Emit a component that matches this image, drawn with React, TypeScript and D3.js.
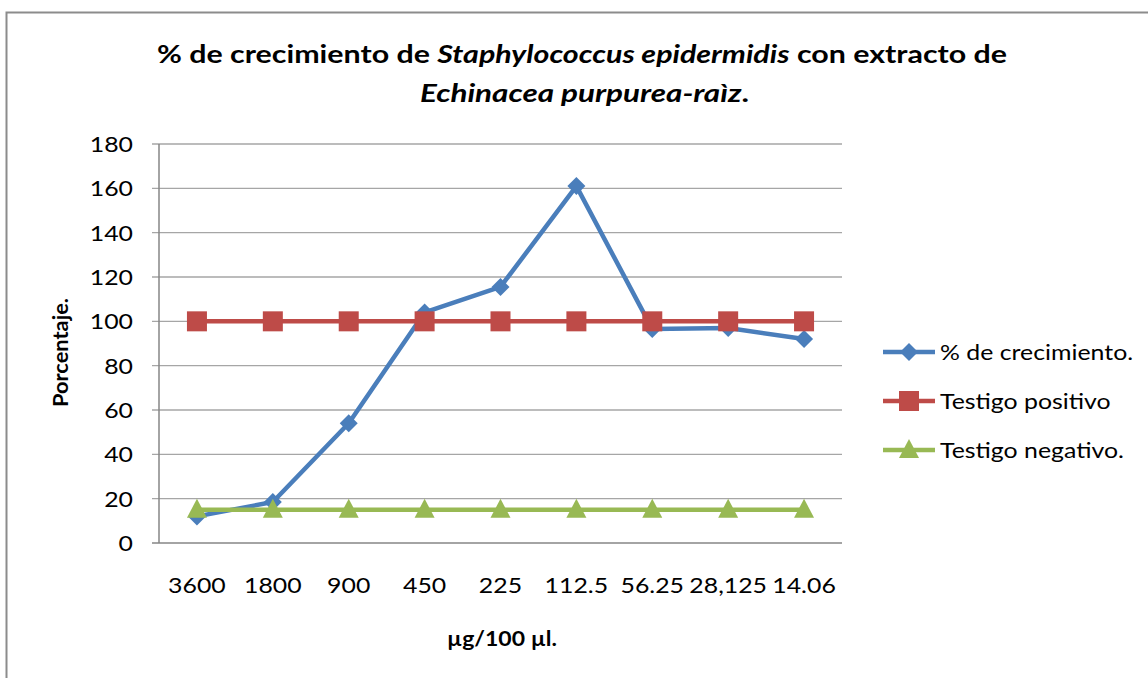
import React from "react";
import * as d3 from "d3";

const categories = ["3600", "1800", "900", "450", "225", "112.5", "56.25", "28,125", "14.06"];
const crecimiento = [12, 18.5, 54, 104, 115.5, 161, 96.5, 97, 92];
const positivo = [100, 100, 100, 100, 100, 100, 100, 100, 100];
const negativo = [15, 15, 15, 15, 15, 15, 15, 15, 15];
const yTicks = [0, 20, 40, 60, 80, 100, 120, 140, 160, 180];

const seriesNames = ["% de crecimiento.", "Testigo positivo", "Testigo negativo."];
const seriesColors = ["#4A7EBB", "#BE4B48", "#98B954"];

const W = 1148;
const H = 678;
const FONT = "Lato, 'Open Sans', sans-serif";
const SX = 1.13;

function SText(props: { x: number; y: number; anchor?: string; size: number; bold?: boolean; children: React.ReactNode }) {
  return (
    <text
      transform={`translate(${props.x},${props.y}) scale(${SX},1)`}
      textAnchor={props.anchor || "start"}
      fontSize={props.size}
      fontWeight={props.bold ? "bold" : "normal"}
      fill="#000"
    >
      {props.children}
    </text>
  );
}

export default function App() {
  const left = 159, right = 842, top = 144, bottom = 543;
  const x = d3.scaleBand<string>().domain(categories).range([left, right]);
  const y = d3.scaleLinear().domain([0, 180]).range([bottom, top]);
  const cx = (c: string) => (x(c) as number) + x.bandwidth() / 2;
  const line = d3.line<[string, number]>().x((d) => cx(d[0])).y((d) => y(d[1]));
  const data = [crecimiento, positivo, negativo];

  const marker = (kind: number, px: number, py: number, key: string) => {
    const col = seriesColors[kind];
    if (kind === 0) {
      const s = 9;
      return <path key={key} d={`M${px},${py - s}L${px + s},${py}L${px},${py + s}L${px - s},${py}Z`} fill={col} />;
    }
    if (kind === 1) {
      return <rect key={key} x={px - 10} y={py - 10} width={20} height={20} fill={col} />;
    }
    return <path key={key} d={`M${px},${py - 11}L${px + 10},${py + 8}L${px - 10},${py + 8}Z`} fill={col} />;
  };

  const legendY = [352, 401, 450];

  return (
    <svg width={W} height={H} style={{ position: "absolute", left: 0, top: 0 }} fontFamily={FONT}>
      <rect x={0} y={0} width={W} height={H} fill="#fff" />
      <path d={`M6.5,${H}V12.5H${W}`} fill="none" stroke="#8c8c8c" strokeWidth={2} />
      <text x={157} y={63} textLength={850} lengthAdjust="spacingAndGlyphs" fontSize={24} fontWeight="bold" fill="#000">
        <tspan>% de crecimiento de </tspan>
        <tspan fontStyle="italic">Staphylococcus epidermidis</tspan>
        <tspan> con extracto de</tspan>
      </text>
      <text x={420} y={102} textLength={329} lengthAdjust="spacingAndGlyphs" fontSize={24} fontWeight="bold" fill="#000">
        <tspan fontStyle="italic">Echinacea purpurea-raìz</tspan>
        <tspan>.</tspan>
      </text>
      {yTicks.map((t) => (
        <g key={t}>
          <line x1={left - 7} x2={right} y1={y(t)} y2={y(t)} stroke={t === 0 ? "#868686" : "#a6a6a6"} strokeWidth={t === 0 ? 1.5 : 1.3} />
          <SText x={133} y={y(t) + 8} anchor="end" size={22}>{t}</SText>
        </g>
      ))}
      <line x1={left} x2={left} y1={top} y2={bottom} stroke="#868686" strokeWidth={1.5} />
      {categories.map((c) => (
        <SText key={c} x={cx(c)} y={593} anchor="middle" size={22}>{c}</SText>
      ))}
      <text x={447} y={646} textLength={110} lengthAdjust="spacingAndGlyphs" fontSize={21} fontWeight="bold" fill="#000">µg/100 µl.</text>
      <text transform="translate(68,407) rotate(-90)" textLength={109} lengthAdjust="spacingAndGlyphs" fontSize={21} fontWeight="bold" fill="#000">Porcentaje.</text>
      {data.map((vals, i) => (
        <g key={i}>
          <path d={line(categories.map((c, j) => [c, vals[j]]) as [string, number][]) || ""} fill="none" stroke={seriesColors[i]} strokeWidth={4.5} strokeLinejoin="round" />
          {categories.map((c, j) => marker(i, cx(c), y(vals[j]), `${i}-${j}`))}
        </g>
      ))}
      {seriesNames.map((n, i) => (
        <g key={n}>
          <line x1={883} x2={935} y1={legendY[i]} y2={legendY[i]} stroke={seriesColors[i]} strokeWidth={4.5} />
          {marker(i, 909, legendY[i], `lg-${i}`)}
          <SText x={940} y={legendY[i] + 8} size={22}>{n}</SText>
        </g>
      ))}
    </svg>
  );
}
